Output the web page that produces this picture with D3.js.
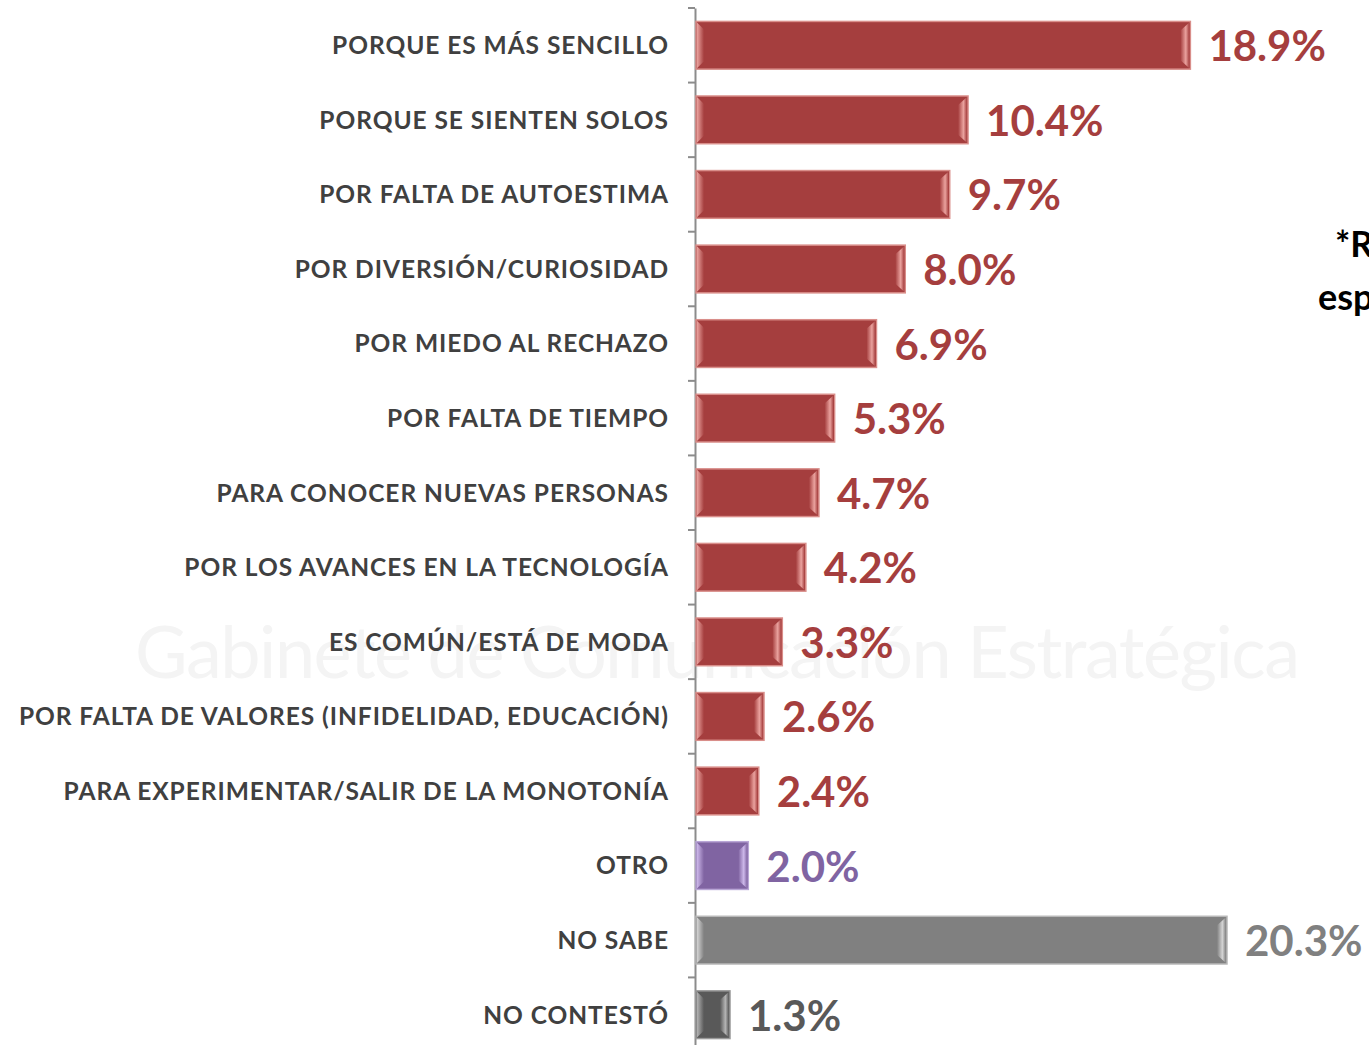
<!DOCTYPE html>
<html>
<head>
<meta charset="utf-8">
<script src="https://cdn.jsdelivr.net/npm/d3@7"></script>
<style>
  body { margin: 0; background: #fff; overflow: hidden; }
  svg { display: block; }
</style>
</head>
<body>
<svg id="chart" width="1369" height="1045"></svg>
<script>
// data
var categories = [
  "PORQUE ES MÁS SENCILLO",
  "PORQUE SE SIENTEN SOLOS",
  "POR FALTA DE AUTOESTIMA",
  "POR DIVERSIÓN/CURIOSIDAD",
  "POR MIEDO AL RECHAZO",
  "POR FALTA DE TIEMPO",
  "PARA CONOCER NUEVAS PERSONAS",
  "POR LOS AVANCES EN LA TECNOLOGÍA",
  "ES COMÚN/ESTÁ DE MODA",
  "POR FALTA DE VALORES (INFIDELIDAD, EDUCACIÓN)",
  "PARA EXPERIMENTAR/SALIR DE LA MONOTONÍA",
  "OTRO",
  "NO SABE",
  "NO CONTESTÓ"
];
var values = [18.9, 10.4, 9.7, 8.0, 6.9, 5.3, 4.7, 4.2, 3.3, 2.6, 2.4, 2.0, 20.3, 1.3];
var groups = ["razon","razon","razon","razon","razon","razon","razon","razon","razon","razon","razon","otro","nosabe","nocontesto"];

var palette = {
  razon:      { fill: "#a53e3e", edge: "#eaa29e", stroke: "#d98e8a", text: "#a53e3e" },
  otro:       { fill: "#8064a2", edge: "#cdb8ea", stroke: "#b9a6d6", text: "#8064a2" },
  nosabe:     { fill: "#808080", edge: "#d4d4d4", stroke: "#b8b8b8", text: "#808080" },
  nocontesto: { fill: "#595959", edge: "#b4b4b4", stroke: "#9a9a9a", text: "#595959" }
};

var svg = d3.select("#chart");
var x0 = 696;
var font = "'Century Gothic', 'Lato', 'DejaVu Sans', sans-serif";

// faint watermark line behind the chart
svg.append("text")
  .attr("x", 135).attr("y", 678)
  .attr("font-family", font).attr("font-size", 72)
  .attr("textLength", 1165)
  .attr("fill", "#f4f4f4")
  .text("Gabinete de Comunicación Estratégica");

var y = d3.scaleBand()
  .domain(categories)
  .range([8, 1052])
  .paddingInner(0.36)
  .paddingOuter(0.18);

var x = d3.scaleLinear()
  .domain([0, 20.3])
  .range([x0, 1227]);

// axis
var axis = d3.axisLeft(y).tickSize(0).tickFormat("");
var gAxis = svg.append("g").attr("transform", "translate(" + (x0 - 1) + ",0)").call(axis);
gAxis.select(".domain").attr("stroke", "#8c8c8c").attr("stroke-width", 2);

var step = y.step();
var boundaries = d3.range(categories.length + 1).map(function(i) { return 8 + i * step; });
svg.append("g").selectAll("line")
  .data(boundaries)
  .enter().append("line")
  .attr("x1", x0 - 8).attr("x2", x0 - 1)
  .attr("y1", function(d) { return d; })
  .attr("y2", function(d) { return d; })
  .attr("stroke", "#8c8c8c")
  .attr("stroke-width", 2);

// gradients for the bevel edges
var defs = svg.append("defs");
Object.keys(palette).forEach(function(k) {
  var p = palette[k];
  var gl = defs.append("linearGradient").attr("id", "left-" + k);
  gl.append("stop").attr("offset", "0%").attr("stop-color", p.edge);
  gl.append("stop").attr("offset", "100%").attr("stop-color", p.fill);
  var gr = defs.append("linearGradient").attr("id", "right-" + k);
  gr.append("stop").attr("offset", "0%").attr("stop-color", p.fill);
  gr.append("stop").attr("offset", "60%").attr("stop-color", p.edge);
  gr.append("stop").attr("offset", "100%").attr("stop-color", p.fill);
});

var rows = categories.map(function(c, i) { return { cat: c, val: values[i], grp: groups[i] }; });

var bars = svg.append("g").selectAll("g")
  .data(rows)
  .enter().append("g");

bars.append("rect")
  .attr("x", x0)
  .attr("y", function(d) { return y(d.cat); })
  .attr("width", function(d) { return x(d.val) - x0; })
  .attr("height", y.bandwidth())
  .attr("fill", function(d) { return palette[d.grp].fill; })
  .attr("stroke", function(d) { return palette[d.grp].stroke; })
  .attr("stroke-width", 1.5);

// bevel on the left end
bars.append("path")
  .attr("d", function(d) {
    var t = y(d.cat), b = t + y.bandwidth(), w = 8;
    return "M" + (x0 + 1) + "," + (t + 1) + "L" + (x0 + w) + "," + (t + w) +
      "L" + (x0 + w) + "," + (b - w) + "L" + (x0 + 1) + "," + (b - 1) + "Z";
  })
  .attr("fill", function(d) { return "url(#left-" + d.grp + ")"; });

// bevel on the right end
bars.append("path")
  .attr("d", function(d) {
    var t = y(d.cat), b = t + y.bandwidth(), w = 9, e = x(d.val) - 1;
    return "M" + e + "," + (t + 1) + "L" + (e - w) + "," + (t + w) +
      "L" + (e - w) + "," + (b - w) + "L" + e + "," + (b - 1) + "Z";
  })
  .attr("fill", function(d) { return "url(#right-" + d.grp + ")"; });

// category labels
svg.append("g").selectAll("text")
  .data(rows)
  .enter().append("text")
  .attr("x", 669)
  .attr("y", function(d) { return y(d.cat) + y.bandwidth() / 2; })
  .attr("dy", "0.36em")
  .attr("text-anchor", "end")
  .attr("font-family", font)
  .attr("font-weight", 700)
  .attr("font-size", 24.5)
  .attr("letter-spacing", 0.95)
  .attr("fill", "#404040")
  .text(function(d) { return d.cat; });

// value labels
svg.append("g").selectAll("text")
  .data(rows)
  .enter().append("text")
  .attr("x", function(d) { return x(d.val) + 18; })
  .attr("y", function(d) { return y(d.cat) + y.bandwidth() / 2; })
  .attr("dy", "0.38em")
  .attr("font-family", font)
  .attr("font-weight", 700)
  .attr("font-size", 42)
  .attr("fill", function(d) { return palette[d.grp].text; })
  .text(function(d) { return d.val.toFixed(1) + "%"; });

// side note, cut by the edge of the picture as in the original
svg.append("text")
  .attr("x", 1335).attr("y", 257)
  .attr("font-family", font).attr("font-weight", 700).attr("font-size", 36)
  .attr("fill", "#000")
  .text("*Respuesta");
svg.append("text")
  .attr("x", 1318).attr("y", 310)
  .attr("font-family", font).attr("font-weight", 700).attr("font-size", 36)
  .attr("fill", "#000")
  .text("espontánea");
</script>
</body>
</html>
